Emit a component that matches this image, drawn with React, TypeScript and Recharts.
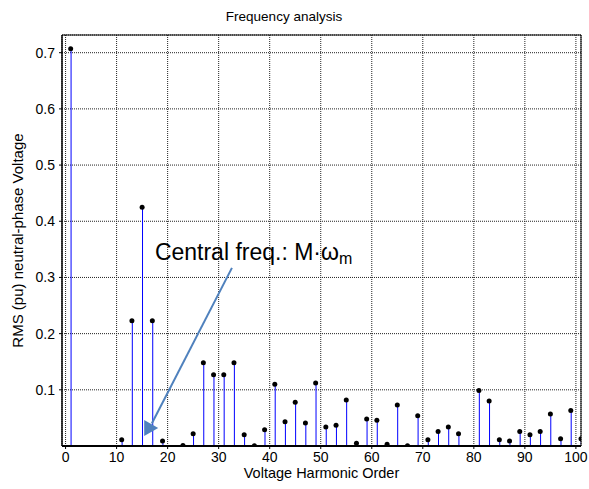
import React from "react";
import {
  ComposedChart,
  Bar,
  Scatter,
  XAxis,
  YAxis,
  CartesianGrid,
  ReferenceArea,
  ReferenceLine,
  ReferenceDot,
} from "recharts";

// harmonic orders that have a stem, and their RMS values (pu)
const orders = [
  1, 11, 13, 15, 17, 19, 23, 25, 27, 29, 31, 33, 35, 37, 39, 41, 43, 45, 47, 49, 51, 53, 55, 57, 59,
  61, 63, 65, 67, 69, 71, 73, 75, 77, 81, 83, 85, 87, 89, 91, 93, 95, 97, 99, 101,
];
const rms = [
  0.707, 0.011, 0.223, 0.425, 0.223, 0.009, 0.001, 0.022, 0.148, 0.127, 0.127, 0.148, 0.02, 0.0005,
  0.029, 0.11, 0.043, 0.078, 0.041, 0.112, 0.034, 0.037, 0.082, 0.005, 0.048, 0.046, 0.003, 0.073,
  0.0005, 0.054, 0.011, 0.026, 0.034, 0.022, 0.099, 0.08, 0.011, 0.009, 0.026, 0.02, 0.026, 0.057,
  0.013, 0.063, 0.013,
];

const xTicks = [0, 10, 20, 30, 40, 50, 60, 70, 80, 90, 100];
const yTicks = [0.1, 0.2, 0.3, 0.4, 0.5, 0.6, 0.7];
const X_DOMAIN: [number, number] = [-0.7, 101];
const Y_DOMAIN: [number, number] = [0, 0.7315];

const data = orders.map((o, i) => ({ order: o, rms: rms[i] }));

const ARROW = "#4f81bd";

export default function App() {
  return (
    <div
      style={{
        position: "absolute",
        left: 0,
        top: 0,
        width: 589,
        height: 489,
        background: "#fff",
        fontFamily: '"Liberation Sans", Arial, sans-serif',
      }}
    >
      <div
        style={{
          position: "absolute",
          left: 0,
          top: 10,
          width: 568,
          textAlign: "center",
          fontSize: 13.5,
          lineHeight: "14px",
          color: "#000",
        }}
      >
        Frequency analysis
      </div>
      <ComposedChart width={589} height={489} data={data} margin={{ top: 35, right: 8, bottom: 0, left: 0 }}>
        <CartesianGrid stroke="#222" strokeDasharray="1 1" />
        <XAxis
          dataKey="order"
          type="number"
          domain={X_DOMAIN}
          ticks={xTicks}
          allowDataOverflow
          height={43}
          tick={{ fontSize: 14, fill: "#000" }}
          tickSize={3}
          tickMargin={3}
          tickLine={{ stroke: "#000" }}
          axisLine={{ stroke: "#000", strokeWidth: 2 }}
          label={{
            value: "Voltage Harmonic Order",
            position: "insideBottom",
            offset: 11,
            fontSize: 14.5,
            fill: "#000",
          }}
        />
        <YAxis
          type="number"
          domain={Y_DOMAIN}
          ticks={yTicks}
          allowDataOverflow
          width={62}
          tick={{ fontSize: 14, fill: "#000" }}
          tickSize={3}
          tickMargin={4}
          tickLine={{ stroke: "#000" }}
          axisLine={{ stroke: "#000" }}
          label={{
            value: "RMS (pu) neutral-phase Voltage",
            angle: -90,
            position: "insideLeft",
            offset: 18,
            fontSize: 15,
            fill: "#000",
            style: { textAnchor: "middle" },
          }}
        />
        <ReferenceArea
          x1={X_DOMAIN[0]}
          x2={X_DOMAIN[1]}
          y1={Y_DOMAIN[0]}
          y2={Y_DOMAIN[1]}
          fill="none"
          stroke="#000"
          strokeWidth={1}
          ifOverflow="visible"
        />
        <Bar dataKey="rms" barSize={1} fill="#0000ff" isAnimationActive={false} />
        <Scatter
          dataKey="rms"
          isAnimationActive={false}
          shape={(p: any) => <circle cx={p.cx} cy={p.cy} r={2.5} fill="#000" />}
        />
        <ReferenceLine
          segment={[
            { x: 32.6, y: 0.317 },
            { x: 16.9, y: 0.04 },
          ]}
          stroke={ARROW}
          strokeWidth={2}
          ifOverflow="visible"
        />
        <ReferenceDot
          x={15.4}
          y={0.032}
          ifOverflow="visible"
          shape={(p: any) => (
            <polygon
              points={`${p.cx},${p.cy - 8} ${p.cx + 14},${p.cy} ${p.cx},${p.cy + 8}`}
              fill={ARROW}
            />
          )}
        />
        <ReferenceDot
          x={17.5}
          y={0.331}
          ifOverflow="visible"
          shape={(p: any) => (
            <text x={p.cx} y={p.cy} fontSize={23} fill="#000">
              Central freq.: M·ω
              <tspan fontSize={16} dy={4}>
                m
              </tspan>
            </text>
          )}
        />
      </ComposedChart>
    </div>
  );
}
